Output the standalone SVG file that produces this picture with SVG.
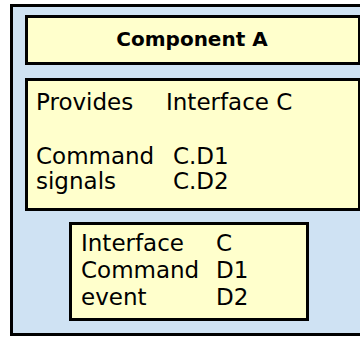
<svg xmlns="http://www.w3.org/2000/svg" width="360" height="338" viewBox="0 0 360 338">
  <style>
    .frame { fill: #cfe2f3; stroke: #000; stroke-width: 3; }
    .box { fill: #ffffcc; stroke: #000; stroke-width: 3; }
    .t { font-family: "DejaVu Sans", "Liberation Sans", sans-serif; font-size: 23px; fill: #000; }
    .title { font-family: "DejaVu Sans", "Liberation Sans", sans-serif; font-size: 20px; font-weight: bold; fill: #000; }
  </style>
  <!-- outer container -->
  <g id="container">
    <rect class="frame" x="11.5" y="5.5" width="360" height="329"/>
  </g>
  <!-- title bar -->
  <g id="component-a">
    <rect class="box" x="26.5" y="16.5" width="333" height="47"/>
    <text class="title" x="192" y="46" text-anchor="middle">Component A</text>
  </g>
  <!-- provided interface -->
  <g id="provides">
    <rect class="box" x="26.5" y="79.5" width="333" height="130"/>
    <text class="t" x="36" y="110">Provides</text>
    <text class="t" x="166" y="110">Interface C</text>
    <text class="t" x="36" y="164">Command</text>
    <text class="t" x="173" y="164">C.D1</text>
    <text class="t" x="36" y="189">signals</text>
    <text class="t" x="173" y="189">C.D2</text>
  </g>
  <!-- interface definition -->
  <g id="interface-c">
    <rect class="box" x="70.5" y="223.5" width="237" height="96"/>
    <text class="t" x="81" y="251">Interface</text>
    <text class="t" x="216" y="251">C</text>
    <text class="t" x="81" y="278">Command</text>
    <text class="t" x="216" y="278">D1</text>
    <text class="t" x="81" y="305">event</text>
    <text class="t" x="216" y="305">D2</text>
  </g>
  <g id="connectors"/>
</svg>
